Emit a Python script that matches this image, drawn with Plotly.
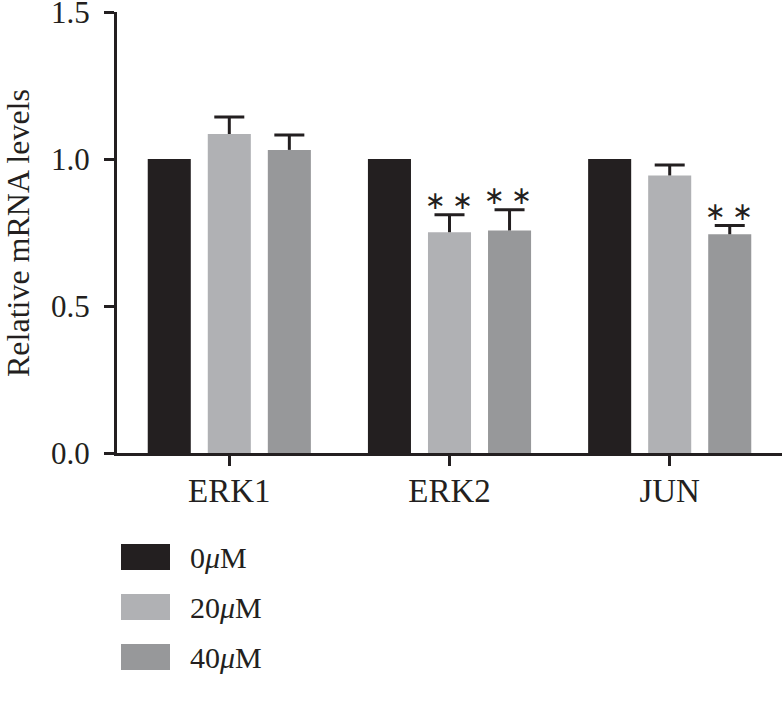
import plotly.graph_objects as go

categories = ["ERK1", "ERK2", "JUN"]
series_names = ["0<i>μ</i>M", "20<i>μ</i>M", "40<i>μ</i>M"]
values_0 = [1.0, 1.0, 1.0]
values_20 = [1.085, 0.751, 0.944]
values_40 = [1.031, 0.757, 0.744]
err_0 = [0.0, 0.0, 0.0]
err_20 = [0.058, 0.059, 0.036]
err_40 = [0.051, 0.070, 0.030]
sig_20 = ["", "**", ""]
sig_40 = ["", "**", "**"]
y_ticks = [0.0, 0.5, 1.0, 1.5]
y_tick_labels = ["0.0", "0.5", "1.0", "1.5"]
y_title = "Relative mRNA levels"

colors = ["#231f20", "#b0b1b4", "#97989a"]
ink = "#231f20"
font_family = "Liberation Serif, Times New Roman, serif"

series_vals = [values_0, values_20, values_40]
series_err = [err_0, err_20, err_40]

fig = go.Figure()
# bars with error stems (no caps)
for i in range(3):
    fig.add_trace(go.Bar(
        x=categories, y=series_vals[i], name=series_names[i],
        marker=dict(color=colors[i], line=dict(width=0)),
        error_y=dict(type="data", array=series_err[i], arrayminus=[0] * 3,
                     symmetric=False, visible=(i > 0), color=ink,
                     thickness=3, width=0),
        offsetgroup=str(i), showlegend=False, cliponaxis=False,
    ))
# caps on top of the error bars (transparent helper bars at value + error)
for i in range(1, 3):
    tops = [v + e for v, e in zip(series_vals[i], series_err[i])]
    fig.add_trace(go.Bar(
        x=categories, y=tops, name=series_names[i] + " cap",
        marker=dict(color="rgba(0,0,0,0)", line=dict(width=0)),
        error_y=dict(type="data", array=[0] * 3, arrayminus=[0] * 3,
                     symmetric=False, visible=True, color=ink,
                     thickness=3, width=15),
        offsetgroup=str(i), showlegend=False, cliponaxis=False,
        hoverinfo="skip",
    ))

# significance marks
slot = 220 * (1 - 0.182) / 3
for j, sigs in ((1, sig_20), (2, sig_40)):
    for k, s in enumerate(sigs):
        if s:
            fig.add_annotation(
                x=categories[k], y=series_vals[j][k] + series_err[j][k],
                xref="x", yref="y", text="\u2005".join("∗" * len(s)), showarrow=False,
                xshift=(j - 1) * slot - 1, yshift=14, yanchor="middle",
                font=dict(family="DejaVu Sans", size=25, color=ink))

# y-axis title
fig.add_annotation(x=(18 - 117) / 665, y=(453 - 233) / 441, xref="paper", yref="paper",
                   text=y_title, textangle=-90, showarrow=False,
                   xanchor="center", yanchor="middle",
                   font=dict(family=font_family, size=32, color=ink))

# legend drawn manually
leg_y = [557, 607, 657]
H = 709
for i in range(3):
    yc = leg_y[i]
    fig.add_shape(type="rect", xref="paper", yref="paper",
                  x0=(121 - 117) / 665, x1=(170 - 117) / 665,
                  y0=(H - 256 - (yc + 13)) / 441, y1=(H - 256 - (yc - 13)) / 441,
                  fillcolor=colors[i], line=dict(width=0))
    fig.add_annotation(x=(188 - 117) / 665, y=(H - 256 - yc) / 441,
                       xref="paper", yref="paper", xanchor="left", yanchor="middle",
                       text=series_names[i], showarrow=False,
                       font=dict(family=font_family, size=30, color=ink))

fig.update_layout(
    width=782, height=709,
    margin=dict(l=117, r=0, t=12, b=256),
    paper_bgcolor="white", plot_bgcolor="white",
    barmode="group", bargap=0.182, bargroupgap=0.283,
    font=dict(family=font_family, size=30, color=ink),
    xaxis=dict(range=[-0.51, 2.51], showline=True, linecolor=ink, linewidth=3,
               ticks="outside", ticklen=10, tickwidth=3, tickcolor=ink,
               showgrid=False, zeroline=False, tickfont=dict(size=33),
               ticklabelstandoff=-4, automargin=False),
    yaxis=dict(range=[0, 1.5], showline=True, linecolor=ink, linewidth=3,
               ticks="outside", ticklen=10, tickwidth=3, tickcolor=ink,
               tickvals=y_ticks, ticktext=y_tick_labels, ticklabelstandoff=8,
               ticklabeloverflow="allow",
               showgrid=False, zeroline=False, tickfont=dict(size=31),
               automargin=False),
)

fig.write_html("out.html", config={"displayModeBar": False},
               post_script="document.body.style.margin='0';document.body.style.padding='0';")
